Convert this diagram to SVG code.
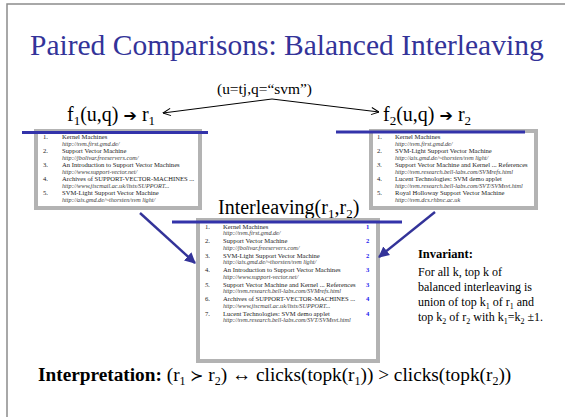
<svg xmlns="http://www.w3.org/2000/svg" width="565" height="417" viewBox="0 0 565 417">
  <style>
    text { font-family: "Liberation Serif", "Times New Roman", serif; fill: #000; }
    .hd { font-size: 29.5px; fill: #333399; }
    .lbl { font-size: 20px; }
    .sub { font-size: 13px; }
    .q { font-size: 15.5px; }
    .it { font-size: 6.6px; fill: #1a1a1a; }
    .url { font-size: 6.2px; font-style: italic; fill: #3a3a3a; }
    .rk { font-size: 6.6px; font-weight: bold; fill: #1a1aee; }
    .inv { font-size: 12px; }
    .invb { font-size: 12.5px; font-weight: bold; }
    .interp { font-size: 19.3px; }
    .frame { fill: #fff; stroke: #b3b3b3; stroke-width: 4; }
    .bar { stroke: #3333aa; stroke-width: 3; }
    .blue-arrow { stroke: #333399; stroke-width: 2.4; fill: none; }
    .thin { stroke: #000; stroke-width: 1; fill: none; }
  </style>
  <defs>
    <marker id="open" viewBox="0 0 10 10" refX="9.5" refY="5" markerWidth="9" markerHeight="9" markerUnits="userSpaceOnUse" orient="auto">
      <path d="M1,1 L9.5,5 L1,9" fill="none" stroke="#000" stroke-width="1.1"/>
    </marker>
    <marker id="solid" viewBox="0 0 10 10" refX="9" refY="5" markerWidth="11" markerHeight="11" markerUnits="userSpaceOnUse" orient="auto">
      <path d="M0,0 L10,5 L0,10 Z" fill="#333399"/>
    </marker>
  </defs>

  <!-- slide frame -->
  <rect x="7" y="4" width="575" height="430" fill="#fff" stroke="#8c8c8c" stroke-width="1.5"/>

  <g id="heading">
    <text class="hd" x="30" y="55">Paired Comparisons: Balanced Interleaving</text>
  </g>

  <g id="query">
    <text class="q" x="217" y="94" textLength="95" lengthAdjust="spacingAndGlyphs">(u=tj,q=“svm”)</text>
  </g>

  <g id="ranker1">
    <text class="lbl" x="67" y="121">f<tspan class="sub" dy="4">1</tspan><tspan dy="-4">(u,q) </tspan><tspan font-family="DejaVu Sans" font-size="16" font-weight="bold">➔</tspan> r<tspan class="sub" dy="4">1</tspan></text>
  </g>

  <g id="ranker2">
    <text class="lbl" x="383" y="121">f<tspan class="sub" dy="4">2</tspan><tspan dy="-4">(u,q) </tspan><tspan font-family="DejaVu Sans" font-size="16" font-weight="bold">➔</tspan> r<tspan class="sub" dy="4">2</tspan></text>
  </g>

  <!-- ranking r1 -->
  <g id="list1">
    <rect class="frame" x="36" y="131" width="164" height="77"/>
    <line class="bar" x1="22" y1="132.5" x2="208" y2="132.5"/>
    <text class="it" x="43" y="138.5">1.</text><text class="it" x="62" y="138.5">Kernel Machines</text>
    <text class="url" x="62" y="145.5">http://svm.first.gmd.de/</text>
    <text class="it" x="43" y="152.7">2.</text><text class="it" x="62" y="152.7">Support Vector Machine</text>
    <text class="url" x="62" y="159.7">http://jbolivar.freeservers.com/</text>
    <text class="it" x="43" y="166.9">3.</text><text class="it" x="62" y="166.9">An Introduction to Support Vector Machines</text>
    <text class="url" x="62" y="173.9">http://www.support-vector.net/</text>
    <text class="it" x="43" y="181.1">4.</text><text class="it" x="62" y="181.1">Archives of SUPPORT-VECTOR-MACHINES ...</text>
    <text class="url" x="62" y="188.1">http://www.jiscmail.ac.uk/lists/SUPPORT...</text>
    <text class="it" x="43" y="195.3">5.</text><text class="it" x="62" y="195.3">SVM-Light Support Vector Machine</text>
    <text class="url" x="62" y="202.3">http://ais.gmd.de/~thorsten/svm light/</text>
  </g>

  <!-- ranking r2 -->
  <g id="list2">
    <rect class="frame" x="371" y="131" width="165" height="77"/>
    <line class="bar" x1="336" y1="132" x2="525" y2="132"/>
    <text class="it" x="377" y="138.5">1.</text><text class="it" x="395" y="138.5">Kernel Machines</text>
    <text class="url" x="395" y="145.5">http://svm.first.gmd.de/</text>
    <text class="it" x="377" y="152.7">2.</text><text class="it" x="395" y="152.7">SVM-Light Support Vector Machine</text>
    <text class="url" x="395" y="159.7">http://ais.gmd.de/~thorsten/svm light/</text>
    <text class="it" x="377" y="166.9" font-style="italic">3.</text><text class="it" x="395" y="166.9">Support Vector Machine and Kernel ... References</text>
    <text class="url" x="395" y="173.9">http://svm.research.bell-labs.com/SVMrefs.html</text>
    <text class="it" x="377" y="181.1">4.</text><text class="it" x="395" y="181.1">Lucent Technologies: SVM demo applet</text>
    <text class="url" x="395" y="188.1">http://svm.research.bell-labs.com/SVT/SVMsvt.html</text>
    <text class="it" x="377" y="195.3">5.</text><text class="it" x="395" y="195.3">Royal Holloway Support Vector Machine</text>
    <text class="url" x="395" y="202.3">http://svm.dcs.rhbnc.ac.uk</text>
  </g>

  <g id="interleaved-label">
    <text class="lbl" x="218" y="214">Interleaving(r<tspan class="sub" dy="4">1</tspan><tspan dy="-4">,r</tspan><tspan class="sub" dy="4">2</tspan><tspan dy="-4">)</tspan></text>
  </g>

  <!-- interleaved ranking -->
  <g id="interleaved">
    <rect class="frame" x="198" y="220" width="180" height="141"/>
    <line class="bar" x1="172" y1="222" x2="402" y2="222"/>
    <text class="it" x="205" y="228.5">1.</text><text class="it" x="223" y="228.5">Kernel Machines</text><text class="rk" x="366" y="228.5">1</text>
    <text class="url" x="223" y="235.2">http://svm.first.gmd.de/</text>
    <text class="it" x="205" y="243">2.</text><text class="it" x="223" y="243">Support Vector Machine</text><text class="rk" x="366" y="243">2</text>
    <text class="url" x="223" y="249.7">http://jbolivar.freeservers.com/</text>
    <text class="it" x="205" y="257.5">3.</text><text class="it" x="223" y="257.5">SVM-Light Support Vector Machine</text><text class="rk" x="366" y="257.5">2</text>
    <text class="url" x="223" y="264.2">http://ais.gmd.de/~thorsten/svm light/</text>
    <text class="it" x="205" y="272">4.</text><text class="it" x="223" y="272">An Introduction to Support Vector Machines</text><text class="rk" x="366" y="272">3</text>
    <text class="url" x="223" y="278.7">http://www.support-vector.net/</text>
    <text class="it" x="205" y="286.5" font-style="italic">5.</text><text class="it" x="223" y="286.5">Support Vector Machine and Kernel ... References</text><text class="rk" x="366" y="286.5">3</text>
    <text class="url" x="223" y="293.2">http://svm.research.bell-labs.com/SVMrefs.html</text>
    <text class="it" x="205" y="301">6.</text><text class="it" x="223" y="301">Archives of SUPPORT-VECTOR-MACHINES ...</text><text class="rk" x="366" y="301">4</text>
    <text class="url" x="223" y="307.7">http://www.jiscmail.ac.uk/lists/SUPPORT...</text>
    <text class="it" x="205" y="315.5">7.</text><text class="it" x="223" y="315.5">Lucent Technologies: SVM demo applet</text><text class="rk" x="366" y="315.5">4</text>
    <text class="url" x="223" y="322.2">http://svm.research.bell-labs.com/SVT/SVMsvt.html</text>
  </g>

  <g id="connectors">
    <line class="thin" x1="272" y1="99" x2="163" y2="113" marker-end="url(#open)"/>
    <line class="thin" x1="272" y1="99" x2="379" y2="112" marker-end="url(#open)"/>
    <line class="blue-arrow" x1="140" y1="213" x2="195" y2="263" marker-end="url(#solid)"/>
    <line class="blue-arrow" x1="435" y1="212" x2="379" y2="257" marker-end="url(#solid)"/>
  </g>

  <g id="invariant">
    <text class="invb" x="418" y="258">Invariant:</text>
    <text class="inv" x="418" y="275.5">For all k, top k of</text>
    <text class="inv" x="418" y="290.5">balanced interleaving is</text>
    <text class="inv" x="418" y="305.5">union of top k<tspan font-size="8" dy="3">1</tspan><tspan dy="-3"> of r</tspan><tspan font-size="8" dy="3">1</tspan><tspan dy="-3"> and</tspan></text>
    <text class="inv" x="418" y="320.5">top k<tspan font-size="8" dy="3">2</tspan><tspan dy="-3"> of r</tspan><tspan font-size="8" dy="3">2</tspan><tspan dy="-3"> with k</tspan><tspan font-size="8" dy="3">1</tspan><tspan dy="-3">=k</tspan><tspan font-size="8" dy="3">2</tspan><tspan dy="-3"> ±1.</tspan></text>
  </g>

  <g id="interpretation">
    <text class="interp" x="38" y="381"><tspan font-weight="bold">Interpretation:</tspan> (r<tspan font-size="12" dy="4">1</tspan><tspan dy="-4"> </tspan><tspan font-family="DejaVu Serif" font-size="16">≻</tspan> r<tspan font-size="12" dy="4">2</tspan><tspan dy="-4">) ↔ clicks(topk(r</tspan><tspan font-size="12" dy="4">1</tspan><tspan dy="-4">)) &gt; clicks(topk(r</tspan><tspan font-size="12" dy="4">2</tspan><tspan dy="-4">))</tspan></text>
  </g>
</svg>
